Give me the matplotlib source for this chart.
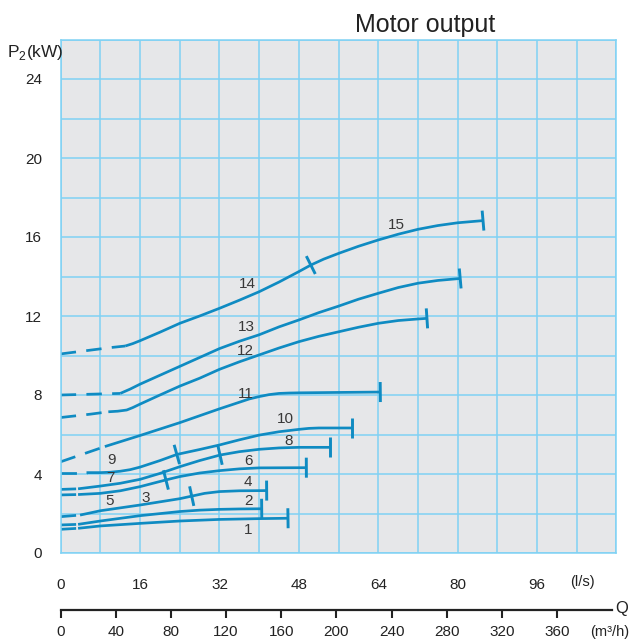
import matplotlib.pyplot as plt
import numpy as np

plt.rcParams['font.family'] = ['Liberation Sans', 'DejaVu Sans']
plt.rcParams['mathtext.fontset'] = 'custom'
plt.rcParams['mathtext.rm'] = 'Liberation Sans'

# motor output P2 (kW) against flow Q (l/s)
q1 = [0, 3.5, 8, 16, 24, 32, 40, 45.8]
p1 = [1.2, 1.25, 1.37, 1.5, 1.62, 1.70, 1.74, 1.76]
q2 = [0, 3.5, 8, 16, 24, 28, 32, 36, 40.5]
p2 = [1.42, 1.45, 1.62, 1.89, 2.1, 2.17, 2.21, 2.23, 2.24]
q3 = [0, 3.9, 8, 16, 24, 26.4]
p3 = [1.84, 1.92, 2.14, 2.43, 2.75, 2.88]
q4 = [26.4, 29, 32, 36, 41.5]
p4 = [2.88, 3.02, 3.11, 3.15, 3.16]
q5 = [0, 3.5, 8, 12, 16, 21.2]
p5 = [2.94, 2.96, 3.02, 3.15, 3.36, 3.7]
q6 = [21.2, 24, 28, 32, 36, 40, 49.5]
p6 = [3.7, 3.87, 4.05, 4.17, 4.26, 4.31, 4.32]
q7 = [0, 3.5, 8, 12, 16, 20, 24, 28, 32.1]
p7 = [3.22, 3.25, 3.39, 3.53, 3.73, 4.03, 4.37, 4.68, 4.96]
q8 = [32.1, 36, 40, 44, 48, 54.3]
p8 = [4.96, 5.13, 5.25, 5.32, 5.35, 5.35]
q9 = [0, 5.2, 8, 10, 12, 14, 16, 20, 23.4]
p9 = [4.07, 4.07, 4.07, 4.09, 4.14, 4.22, 4.35, 4.68, 4.99]
q10 = [23.4, 28, 32, 36, 40, 44, 48, 50, 52, 58.7]
p10 = [4.99, 5.24, 5.47, 5.73, 5.97, 6.14, 6.26, 6.31, 6.33, 6.33]
q11 = [0, 8.9, 16, 24, 32, 38, 40, 42, 44, 46, 48, 56, 64.4]
p11 = [4.62, 5.39, 5.95, 6.6, 7.3, 7.8, 7.92, 8.02, 8.08, 8.1, 8.11, 8.13, 8.15]
q12 = [0, 6, 9.6, 11.5, 13.3, 14.5, 16, 20, 24, 28, 32, 36, 40, 44, 48, 52, 56, 60,
       64, 68, 72, 73.8]
p12 = [6.86, 7.03, 7.15, 7.18, 7.24, 7.36, 7.54, 8.0, 8.45, 8.85, 9.3, 9.68, 10.03,
       10.38, 10.7, 10.97, 11.2, 11.43, 11.63, 11.77, 11.85, 11.88]
q13 = [0, 12, 14, 16, 20, 24, 28, 32, 36, 40, 44, 48, 52, 56, 60, 64, 68, 72, 76,
       80.5]
p13 = [8.0, 8.08, 8.3, 8.55, 9.0, 9.45, 9.9, 10.35, 10.72, 11.05, 11.45, 11.8, 12.17,
       12.5, 12.85, 13.15, 13.44, 13.66, 13.8, 13.9]
q14 = [0, 5, 10, 13, 14.5, 16, 20, 24, 28, 32, 36, 40, 44, 48, 50.4]
p14 = [10.08, 10.24, 10.4, 10.48, 10.6, 10.75, 11.18, 11.63, 12.0, 12.39, 12.8, 13.23,
       13.72, 14.25, 14.58]
q15 = [50.4, 53, 56, 60, 64, 68, 72, 76, 80, 85.1]
p15 = [14.58, 14.88, 15.17, 15.53, 15.85, 16.14, 16.39, 16.58, 16.72, 16.83]

curves = {1: (q1, p1), 2: (q2, p2), 3: (q3, p3), 4: (q4, p4), 5: (q5, p5),
          6: (q6, p6), 7: (q7, p7), 8: (q8, p8), 9: (q9, p9), 10: (q10, p10),
          11: (q11, p11), 12: (q12, p12), 13: (q13, p13), 14: (q14, p14),
          15: (q15, p15)}

# flow where the dashed lead-in turns solid
dash_until = {1: 3.5, 2: 3.5, 3: 3.9, 5: 3.5, 7: 3.5, 9: 5.2,
              11: 8.9, 12: 9.6, 13: 12, 14: 13}
# curves closed with an end bar; the others hand over to the next size
end_bar = [1, 2, 4, 6, 8, 10, 11, 12, 13, 15]
hand_over = [(3, 4), (5, 6), (7, 8), (9, 10), (14, 15)]

label_q = [37.8, 37.8, 17.2, 37.8, 9.9, 37.8, 10.1, 45.9, 10.3, 45.2,
           37.4, 37.2, 37.5, 37.6, 67.7]
label_p = [1.16, 2.65, 2.8, 3.61, 2.63, 4.66, 3.78, 5.69, 4.71, 6.77,
           8.05, 10.24, 11.43, 13.62, 16.6]

ls_ticks = [0, 16, 32, 48, 64, 80, 96]
m3h_ticks = [0, 40, 80, 120, 160, 200, 240, 280, 320, 360]
kw_ticks = [0, 4, 8, 12, 16, 20, 24]

W, H = 629, 640
L, R, T, B = 60.7, 616.5, 39.5, 553
blue = '#0f8bc2'
grid = '#80d2f4'
ink = '#222222'

fig = plt.figure(figsize=(W / 100, H / 100), dpi=100)
ax = fig.add_axes([L / W, 1 - B / H, (R - L) / W, (B - T) / H])
ax.set_xlim(0, 112)
ax.set_ylim(0, 26)
ax.set_facecolor('#e6e7e9')
for s in ax.spines.values():
    s.set_color(grid)
    s.set_linewidth(1.1)

ax.set_xticks(ls_ticks)
ax.set_xticks(np.arange(0, 113, 8), minor=True)
ax.set_yticks(kw_ticks)
ax.set_yticks(np.arange(0, 27, 2), minor=True)
ax.grid(which='both', color=grid, lw=1.1)
ax.set_axisbelow(True)
ax.tick_params(which='both', length=0)
ax.tick_params(axis='x', pad=18, labelsize=11, colors=ink)
ax.tick_params(axis='y', pad=13.5, labelsize=11, colors=ink)

lw = 1.95
for n, (q, p) in curves.items():
    q = np.array(q)
    p = np.array(p)
    if n in dash_until:
        k = int(np.searchsorted(q, dash_until[n]))
        ax.plot(q[:k + 1], p[:k + 1], color=blue, lw=lw, dashes=(5.7, 3.8))
        q, p = q[k:], p[k:]
    ax.plot(q, p, color=blue, lw=lw, solid_capstyle='butt',
            solid_joinstyle='round')


def cross_bar(a, b, at):
    # short bar drawn square to the curve direction a->b, in screen space
    d = ax.transData.transform([a, b])
    d = d[1] - d[0]
    d /= np.hypot(*d)
    nrm = np.array([-d[1], d[0]])
    c = ax.transData.transform(at)
    pts = ax.transData.inverted().transform([c - 10 * nrm, c + 10 * nrm])
    ax.plot(pts[:, 0], pts[:, 1], color=blue, lw=2.1, solid_capstyle='butt')


for n in end_bar:
    q, p = curves[n]
    cross_bar((q[-2], p[-2]), (q[-1], p[-1]), (q[-1], p[-1]))
for a, b in hand_over:
    qa, pa = curves[a]
    qb, pb = curves[b]
    cross_bar((qa[-2], pa[-2]), (qb[1], pb[1]), (qa[-1], pa[-1]))

for i, (x, y) in enumerate(zip(label_q, label_p)):
    ax.text(x, y, str(i + 1), ha='center', va='center', fontsize=11,
            color='#383838')

# second flow scale in m3/h under the chart
ax2 = fig.add_axes([L / W, 1 - 610 / H, (612.1 - L) / W, 0.0001])
ax2.set_xlim(0, 400)
ax2.set_facecolor('none')
for side in ['top', 'left', 'right']:
    ax2.spines[side].set_visible(False)
ax2.spines['bottom'].set_linewidth(1.6)
ax2.spines['bottom'].set_color(ink)
ax2.set_yticks([])
ax2.set_xticks(m3h_ticks)
ax2.tick_params(axis='x', direction='out', length=6, width=1.5, pad=4.5,
                labelsize=11, colors=ink)


def ftext(x, y, s, **kw):
    fig.text(x / W, 1 - y / H, s, **kw)


ftext(425.5, 31.7, 'Motor output', ha='center', va='baseline', fontsize=18,
      color=ink)
ftext(7, 57, r'P$_2$(kW)', ha='left', va='baseline', fontsize=12.5, color=ink)
ftext(582, 582, '(l/s)', ha='center', va='center', fontsize=10.5, color=ink)
ftext(622, 608, 'Q', ha='center', va='center', fontsize=12, color=ink)
ftext(610, 632, '(m³/h)', ha='center', va='center', fontsize=10.5, color=ink)

fig.savefig('out.png', dpi=100)
